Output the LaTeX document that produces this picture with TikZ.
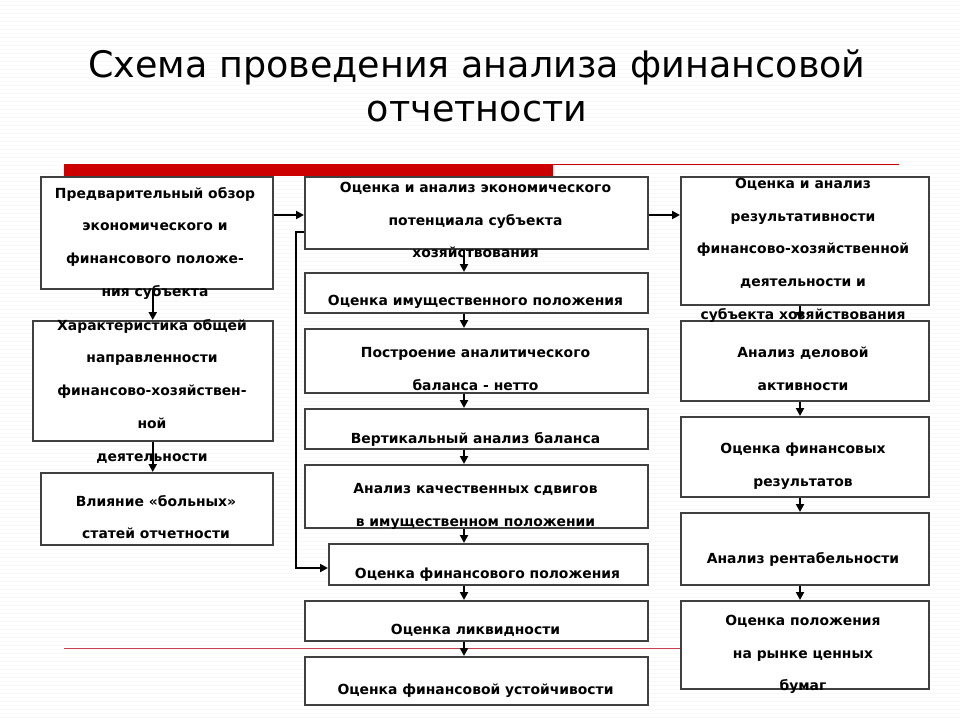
\documentclass[tikz,border=0pt]{standalone}
\usepackage{fontspec}
\setmainfont{DejaVu Sans}
\usetikzlibrary{arrows.meta}
\definecolor{barred}{HTML}{CC0000}
\definecolor{thinred}{HTML}{C84050}
\definecolor{boxline}{HTML}{404040}
\newcommand{\mystrut}{\rule{0pt}{10pt}}
\newcommand{\tstrut}{\rule{0pt}{27pt}}
\tikzset{
  box/.style={draw=boxline, line width=1.5pt, fill=white, rectangle, inner sep=0pt, anchor=north west},
  txt/.style={anchor=north, inner sep=0pt, align=center, font=\bfseries\fontsize{13.9}{32.7}\selectfont},
  titletxt/.style={anchor=north, inner sep=0pt, align=center, font=\fontsize{36.5}{44}\selectfont},
  arr/.style={draw=black, line width=2.2pt, -{Triangle[length=8pt,width=8pt]}}
}
\begin{document}
\begin{tikzpicture}[x=1pt,y=-1pt]
\useasboundingbox (0,0) rectangle (960,720);
\fill[white] (0,0) rectangle (960,720);
\foreach \i in {0,4,...,716} {\draw[black!2.5, line width=1pt] (0,\i+1) -- (960,\i+1);}
% title
\node[titletxt] (title) at (477,50) {\tstrut Схема проведения анализа финансовой\\отчетности};
% decorative red lines
\fill[barred] (64,164) rectangle (553,176);
\draw[barred, line width=1pt] (553,164.5) -- (899,164.5);
\draw[thinred, line width=0.9pt] (64,648) -- (680,648);
% left column
\node[box, minimum width=232pt, minimum height=112pt] (L1) at (40,176) {};
\node[box, minimum width=240pt, minimum height=120pt] (L2) at (32,320) {};
\node[box, minimum width=232pt, minimum height=72pt] (L3) at (40,472) {};
% middle column
\node[box, minimum width=343pt, minimum height=72pt] (M1) at (304,176) {};
\node[box, minimum width=343pt, minimum height=40pt] (M2) at (304,272) {};
\node[box, minimum width=343pt, minimum height=64pt] (M3) at (304,328) {};
\node[box, minimum width=343pt, minimum height=40pt] (M4) at (304,408) {};
\node[box, minimum width=343pt, minimum height=63pt] (M5) at (304,464) {};
\node[box, minimum width=319pt, minimum height=41pt] (M6) at (328,543) {};
\node[box, minimum width=343pt, minimum height=40pt] (M7) at (304,600) {};
\node[box, minimum width=343pt, minimum height=48pt] (M8) at (304,656) {};
% right column
\node[box, minimum width=248pt, minimum height=128pt] (R1) at (680,176) {};
\node[box, minimum width=248pt, minimum height=80pt] (R2) at (680,320) {};
\node[box, minimum width=248pt, minimum height=80pt] (R3) at (680,416) {};
\node[box, minimum width=248pt, minimum height=72pt] (R4) at (680,512) {};
\node[box, minimum width=248pt, minimum height=88pt] (R5) at (680,600) {};
% connector guide coordinates
\coordinate (mx) at (464,0);
\coordinate (rx) at (800,0);
\coordinate (hy) at (0,215);
\coordinate (lp1) at (296,232);
\coordinate (lp2) at (296,568);
% connectors
\draw[arr] (L2.north |- L1.south) -- (L2.north);
\draw[arr] (L2.south) -- (L2.south |- L3.north);
\draw[arr] (L1.east |- hy) -- (M1.west |- hy);
\draw[arr] (M1.east |- hy) -- (R1.west |- hy);
\draw[arr] (M1.south -| mx) -- (M2.north -| mx);
\draw[arr] (M2.south -| mx) -- (M3.north -| mx);
\draw[arr] (M3.south -| mx) -- (M4.north -| mx);
\draw[arr] (M4.south -| mx) -- (M5.north -| mx);
\draw[arr] (M5.south -| mx) -- (M6.north -| mx);
\draw[arr] (M6.south -| mx) -- (M7.north -| mx);
\draw[arr] (M7.south -| mx) -- (M8.north -| mx);
\draw[arr] (R1.south -| rx) -- (R2.north -| rx);
\draw[arr] (R2.south -| rx) -- (R3.north -| rx);
\draw[arr] (R3.south -| rx) -- (R4.north -| rx);
\draw[arr] (R4.south -| rx) -- (R5.north -| rx);
\draw[arr] (M1.west |- lp1) -- (lp1) -- (lp2) -- (M6.west |- lp2);
% texts
\node[txt] (tL1) at (155,187) {\mystrut Предварительный обзор\\экономического и\\финансового положе-\\ния субъекта};
\node[txt] (tL2) at (152,319) {\mystrut Характеристика общей\\направленности\\финансово-хозяйствен-\\ной\\деятельности};
\node[txt] (tL3) at (156,495) {\mystrut Влияние «больных»\\статей отчетности};
\node[txt] (tM1) at (475.5,182) {\mystrut Оценка и анализ экономического\\потенциала субъекта\\хозяйствования};
\node[txt] (tM2) at (475.5,295) {\mystrut Оценка имущественного положения};
\node[txt] (tM3) at (475.5,347) {\mystrut Построение аналитического\\баланса - нетто};
\node[txt] (tM4) at (475.5,432) {\mystrut Вертикальный анализ баланса};
\node[txt] (tM5) at (475.5,483) {\mystrut Анализ качественных сдвигов\\в имущественном положении};
\node[txt] (tM6) at (487.5,568) {\mystrut Оценка финансового положения};
\node[txt] (tM7) at (475.5,624) {\mystrut Оценка ликвидности};
\node[txt] (tM8) at (475.5,684) {\mystrut Оценка финансовой устойчивости};
\node[txt] (tR1) at (803,178) {\mystrut Оценка и анализ\\результативности\\финансово-хозяйственной\\деятельности и\\субъекта хозяйствования};
\node[txt] (tR2) at (803,347) {\mystrut Анализ деловой\\активности};
\node[txt] (tR3) at (803,443) {\mystrut Оценка финансовых\\результатов};
\node[txt] (tR4) at (803,552) {\mystrut Анализ рентабельности};
\node[txt] (tR5) at (803,615) {\mystrut Оценка положения\\на рынке ценных\\бумаг};
\end{tikzpicture}
\end{document}
